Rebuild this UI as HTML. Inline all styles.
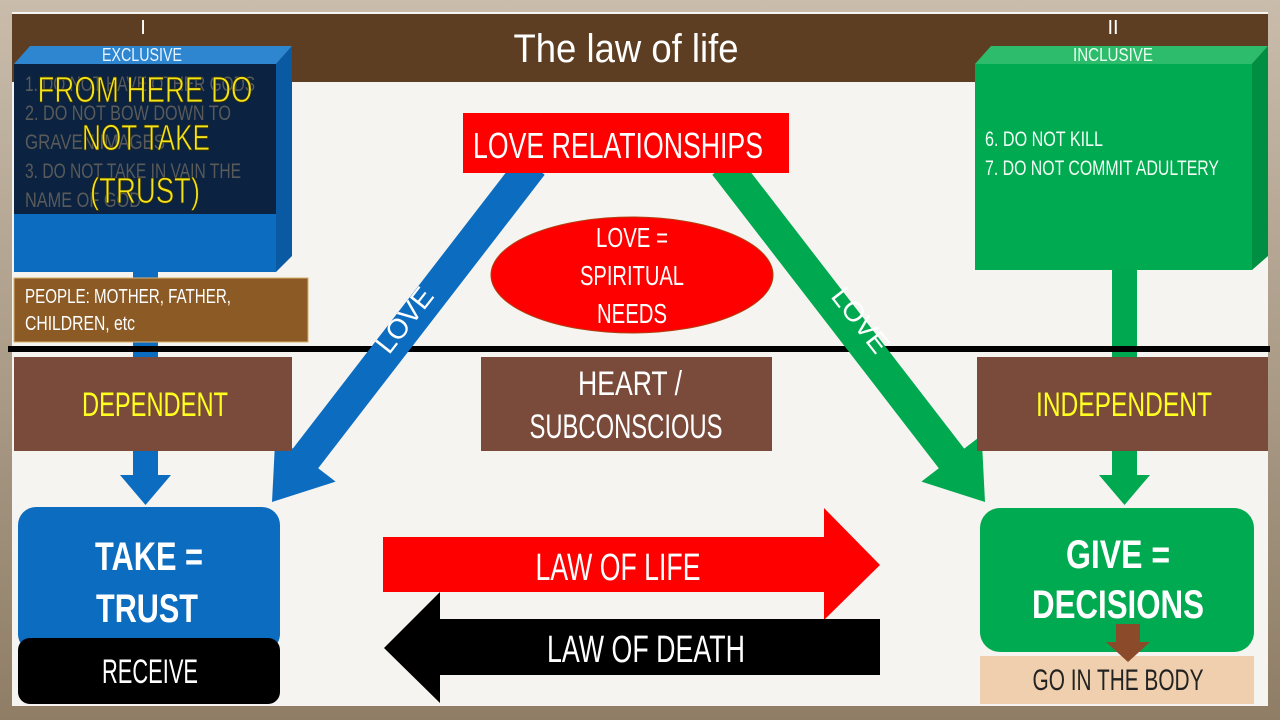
<!DOCTYPE html>
<html><head><meta charset="utf-8"><style>
html,body{margin:0;padding:0;background:#b8a894;}
svg{display:block;}
text{font-family:"Liberation Sans Narrow","Liberation Sans",sans-serif;}
</style></head><body>
<svg width="1280" height="720" viewBox="0 0 1280 720" xmlns="http://www.w3.org/2000/svg">
<defs>
<linearGradient id="bg" x1="0" y1="0" x2="0" y2="1"><stop offset="0" stop-color="#c9bcab"/><stop offset="1" stop-color="#8f7d66"/></linearGradient>
</defs>
<rect width="1280" height="720" fill="url(#bg)"/>
<rect x="12" y="12" width="1256" height="694" fill="#f6f4f1"/>
<rect x="12" y="14" width="1256" height="68" fill="#5e3e22"/>
<text x="626" y="62" font-size="40" fill="#fff" text-anchor="middle" textLength="225" lengthAdjust="spacingAndGlyphs">The law of life</text>
<text x="143" y="34" font-size="20" fill="#fff" text-anchor="middle">I</text>
<text x="1113" y="34" font-size="20" fill="#fff" text-anchor="middle">II</text>

<!-- connectors -->
<rect x="133" y="270" width="25" height="210" fill="#0c6cc0"/>
<polygon points="120,475 171,475 145.5,505" fill="#0c6cc0"/>
<rect x="1112" y="268" width="25" height="212" fill="#00a84f"/>
<polygon points="1099,475 1150,475 1124.5,505" fill="#00a84f"/>

<!-- blue 3D box -->
<polygon points="14,64 30,46 292,46 276,64" fill="#2f86d0"/>
<polygon points="276,64 292,46 292,256 276,272" fill="#0a5aa3"/>
<rect x="14" y="64" width="262" height="208" fill="#0c6cc0"/>
<rect x="14" y="64" width="262" height="150" fill="#0b2340"/>
<text x="142" y="61" font-size="18" fill="#e8f4ff" text-anchor="middle" textLength="80" lengthAdjust="spacingAndGlyphs">EXCLUSIVE</text>
<g font-size="21" fill="#5a5a5a">
<text x="25" y="91" textLength="230" lengthAdjust="spacingAndGlyphs">1. DO NOT HAVE OTHER GODS</text>
<text x="25" y="120" textLength="206" lengthAdjust="spacingAndGlyphs">2. DO NOT BOW DOWN TO</text>
<text x="25" y="149" textLength="140" lengthAdjust="spacingAndGlyphs">GRAVEN IMAGES</text>
<text x="25" y="178" textLength="216" lengthAdjust="spacingAndGlyphs">3. DO NOT TAKE IN VAIN THE</text>
<text x="25" y="207" textLength="116" lengthAdjust="spacingAndGlyphs">NAME OF GOD</text>
</g>
<g font-size="36" fill="#f2e31b" stroke="#3a3000" stroke-width="0.8" text-anchor="middle">
<text x="145" y="102" textLength="215" lengthAdjust="spacingAndGlyphs">FROM HERE DO</text>
<text x="146" y="150" textLength="128" lengthAdjust="spacingAndGlyphs">NOT TAKE</text>
<text x="145" y="203" textLength="110" lengthAdjust="spacingAndGlyphs">(TRUST)</text>
</g>

<!-- green 3D box -->
<polygon points="975,64 991,46 1268,46 1252,64" fill="#2dbb6c"/>
<polygon points="1252,64 1268,46 1268,256 1252,270" fill="#008f42"/>
<rect x="975" y="64" width="277" height="206" fill="#00aa50"/>
<text x="1113" y="61" font-size="18" fill="#eafff0" text-anchor="middle" textLength="80" lengthAdjust="spacingAndGlyphs">INCLUSIVE</text>
<text x="985" y="146" font-size="21" fill="#f0fff4" textLength="118" lengthAdjust="spacingAndGlyphs">6. DO NOT KILL</text>
<text x="985" y="175" font-size="21" fill="#f0fff4" textLength="234" lengthAdjust="spacingAndGlyphs">7. DO NOT COMMIT ADULTERY</text>

<!-- people box -->
<rect x="14" y="278" width="294" height="64" fill="#8b5a25" stroke="#d8b070" stroke-width="1"/>
<text x="25" y="303" font-size="20" fill="#fff" textLength="206" lengthAdjust="spacingAndGlyphs">PEOPLE: MOTHER, FATHER,</text>
<text x="25" y="330" font-size="20" fill="#fff" textLength="110" lengthAdjust="spacingAndGlyphs">CHILDREN, etc</text>

<!-- black line -->
<rect x="8" y="346" width="1262" height="6" fill="#000"/>

<!-- diagonal arrows -->
<polygon points="544.7,174.8 519.3,155.2 292.8,448.6 275.4,435.2 272,502 335.6,481.6 318.2,468.2" fill="#0c6cc0"/>
<polygon points="712.3,174.8 737.7,155.2 964.2,448.6 981.6,435.2 985,502 921.4,481.6 938.8,468.2" fill="#00a84f"/>
<text transform="translate(412,326) rotate(-52)" font-size="28" fill="#fff" text-anchor="middle">LOVE</text>
<text transform="translate(853,326) rotate(52)" font-size="28" fill="#fff" text-anchor="middle">LOVE</text>

<!-- love relationships -->
<rect x="463" y="113" width="326" height="60" fill="#ff0000"/>
<text x="618" y="158" font-size="36" fill="#fff" text-anchor="middle" textLength="290" lengthAdjust="spacingAndGlyphs">LOVE RELATIONSHIPS</text>

<ellipse cx="632" cy="275" rx="141" ry="58" fill="#ff0000" stroke="#b04010" stroke-width="1"/>
<g font-size="28" fill="#fff" text-anchor="middle">
<text x="632" y="247" textLength="72" lengthAdjust="spacingAndGlyphs">LOVE =</text>
<text x="632" y="285" textLength="104" lengthAdjust="spacingAndGlyphs">SPIRITUAL</text>
<text x="632" y="323" textLength="70" lengthAdjust="spacingAndGlyphs">NEEDS</text>
</g>

<!-- middle row -->
<rect x="14" y="357" width="278" height="94" fill="#7a4a3a"/>
<text x="155" y="416" font-size="34" fill="#ffff20" text-anchor="middle" textLength="146" lengthAdjust="spacingAndGlyphs">DEPENDENT</text>
<rect x="481" y="357" width="291" height="94" fill="#7a4a3a"/>
<text x="630" y="395" font-size="34" fill="#fff" text-anchor="middle" textLength="104" lengthAdjust="spacingAndGlyphs">HEART /</text>
<text x="626" y="438" font-size="34" fill="#fff" text-anchor="middle" textLength="193" lengthAdjust="spacingAndGlyphs">SUBCONSCIOUS</text>
<rect x="977" y="357" width="291" height="94" fill="#7a4a3a"/>
<text x="1124" y="416" font-size="34" fill="#ffff20" text-anchor="middle" textLength="176" lengthAdjust="spacingAndGlyphs">INDEPENDENT</text>

<!-- take -->
<rect x="18" y="507" width="262" height="145" rx="18" fill="#0c6cc0"/>
<text x="149" y="570" font-size="40" font-weight="bold" fill="#fff" text-anchor="middle" textLength="108" lengthAdjust="spacingAndGlyphs">TAKE =</text>
<text x="147" y="622" font-size="40" font-weight="bold" fill="#fff" text-anchor="middle" textLength="102" lengthAdjust="spacingAndGlyphs">TRUST</text>
<rect x="18" y="638" width="262" height="66" rx="12" fill="#000"/>
<text x="150" y="683" font-size="34" fill="#fff" text-anchor="middle" textLength="96" lengthAdjust="spacingAndGlyphs">RECEIVE</text>

<!-- give -->
<rect x="980" y="508" width="274" height="144" rx="20" fill="#00aa50"/>
<text x="1118" y="568" font-size="40" font-weight="bold" fill="#fff" text-anchor="middle" textLength="104" lengthAdjust="spacingAndGlyphs">GIVE =</text>
<text x="1118" y="618" font-size="40" font-weight="bold" fill="#fff" text-anchor="middle" textLength="172" lengthAdjust="spacingAndGlyphs">DECISIONS</text>
<rect x="980" y="656" width="274" height="48" fill="#f0cfae"/>
<polygon points="1116,624 1140,624 1140,642 1150,642 1128,662 1106,642 1116,642" fill="#8b4a2a"/>
<text x="1118" y="690" font-size="30" fill="#222" text-anchor="middle" textLength="171" lengthAdjust="spacingAndGlyphs">GO IN THE BODY</text>

<!-- law arrows -->
<polygon points="383,537 824,537 824,508 880,565 824,620 824,592 383,592" fill="#ff0000"/>
<text x="618" y="580" font-size="38" fill="#fff" text-anchor="middle" textLength="165" lengthAdjust="spacingAndGlyphs">LAW OF LIFE</text>
<polygon points="880,619 440,619 440,592 384,648 440,703 440,675 880,675" fill="#000"/>
<text x="646" y="662" font-size="38" fill="#fff" text-anchor="middle" textLength="198" lengthAdjust="spacingAndGlyphs">LAW OF DEATH</text>
</svg>
</body></html>
